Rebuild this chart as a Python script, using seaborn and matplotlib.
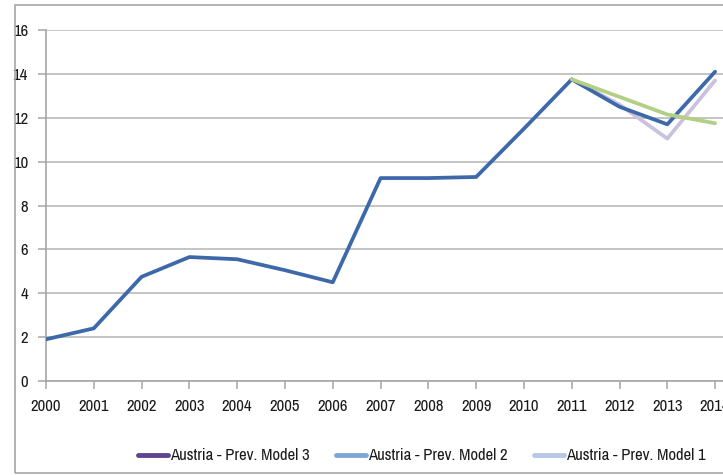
import matplotlib
matplotlib.use("Agg")
import matplotlib.pyplot as plt
import seaborn as sns
import pandas as pd
from matplotlib.lines import Line2D
from matplotlib.patches import Rectangle

years = list(range(2000, 2015))
actual = [1.9, 2.4, 4.75, 5.65, 5.55, 5.05, 4.5, 9.25, 9.25, 9.3, 11.5, 13.75, 12.5, 11.7, 14.1]
fc_years = [2011, 2012, 2013, 2014]
model1 = [13.75, 12.6, 11.05, 13.7]
model2 = [13.75, 12.95, 12.15, 11.75]
legend_labels = ["Austria - Prev. Model 3", "Austria - Prev. Model 2", "Austria - Prev. Model 1"]
legend_colors = ["#5E4391", "#7EA6DA", "#B5C9E6"]
yticks = [0, 2, 4, 6, 8, 10, 12, 14, 16]

sns.set_style("white")
plt.rcParams["font.family"] = ["Archivo Narrow", "Carlito", "DejaVu Sans"]

fig = plt.figure(figsize=(7.23, 4.75), dpi=100)
fig.patches.append(Rectangle((15/723, 2/475), 1.0, 468/475, transform=fig.transFigure,
                             fill=False, edgecolor="#A6A6A6", linewidth=1.2))
ax = fig.add_axes([46/723, 94/475, 693/723, 351/475])

df_a = pd.DataFrame({"year": years, "value": actual})
df_1 = pd.DataFrame({"year": fc_years, "value": model1})
df_2 = pd.DataFrame({"year": fc_years, "value": model2})

sns.lineplot(data=df_1, x="year", y="value", ax=ax, color="#C9C1DE", linewidth=2.7, zorder=3)
sns.lineplot(data=df_a, x="year", y="value", ax=ax, color="#3D68AA", linewidth=2.7, zorder=4)
sns.lineplot(data=df_2, x="year", y="value", ax=ax, color="#B2CF84", linewidth=2.7, zorder=5)

ax.set_xlim(2000, 2014.5)
ax.set_ylim(0, 16)
ax.set_yticks(yticks)
ax.set_xticks(years)
ax.set_xticklabels([str(y) for y in years])
ax.yaxis.grid(True, color="#BFBFBF", linewidth=1.3)
ax.set_axisbelow(True)
for s in ["top", "right"]:
    ax.spines[s].set_visible(False)
for s in ["left", "bottom"]:
    ax.spines[s].set_color("#A6A6A6")
    ax.spines[s].set_linewidth(1.2)
ax.tick_params(axis="both", which="major", direction="out", length=6, width=1.1,
               color="#A6A6A6", labelsize=12, labelcolor="#1A1A1A", left=True, bottom=True)
ax.tick_params(axis="x", pad=7)
ax.tick_params(axis="y", pad=7)
ax.set_xlabel("")
ax.set_ylabel("")

handles = [Line2D([0], [0], color=c, linewidth=3.5) for c in legend_colors]
fig.legend(handles, legend_labels, loc="center left", bbox_to_anchor=(138/723, 1 - 456/475),
           ncol=3, frameon=False, fontsize=12, handlelength=1.8, handletextpad=0.1,
           columnspacing=1.6, borderaxespad=0, borderpad=0, labelcolor="#1A1A1A")

fig.savefig("out.png", dpi=100)
